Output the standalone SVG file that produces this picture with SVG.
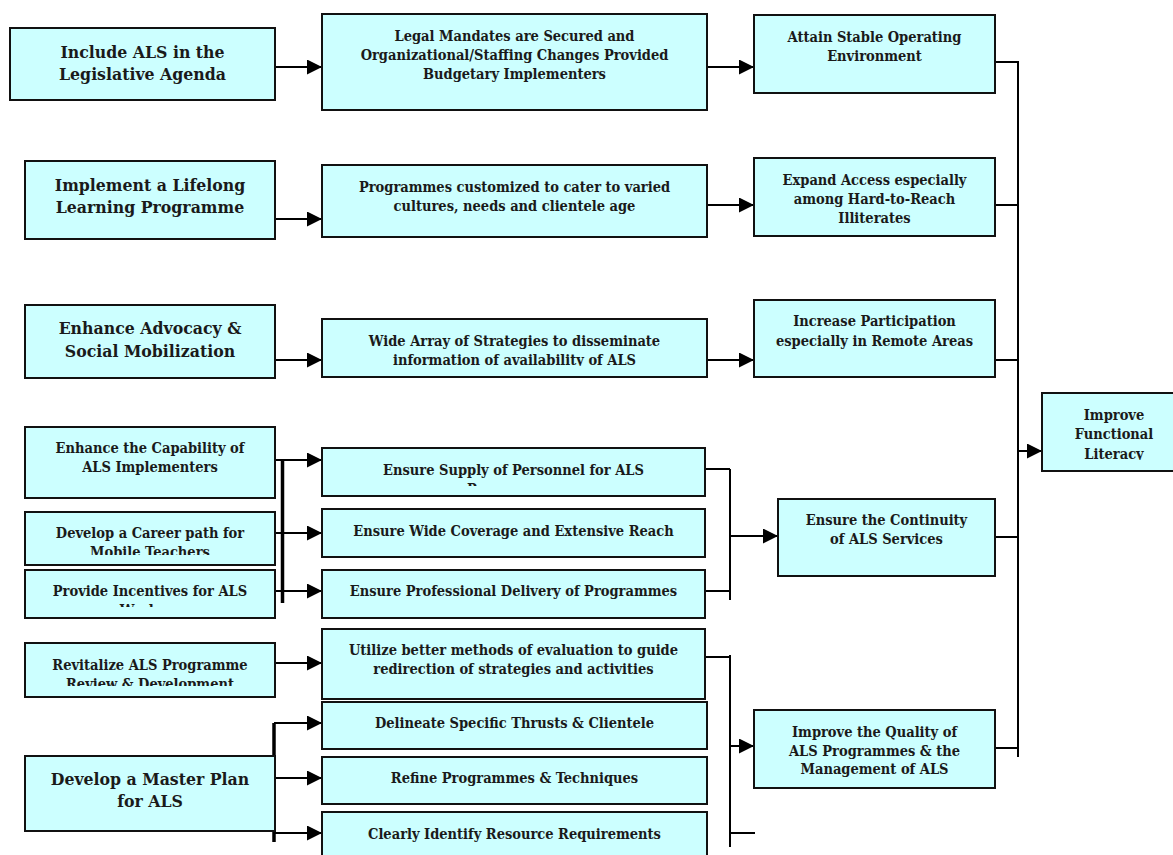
<svg xmlns="http://www.w3.org/2000/svg" width="1173" height="855" viewBox="0 0 1173 855">
<style>
.box{fill:#ccffff;stroke:#111;stroke-width:2}
.t{font-family:"DejaVu Serif Condensed","DejaVu Serif","Liberation Serif",serif;font-stretch:condensed;font-weight:bold;fill:#1a1a1a;text-anchor:middle}
.L{font-size:17.5px}
.S{font-size:14.5px}
.c{stroke:#000;stroke-width:2;fill:none}
.k{stroke:#000;stroke-width:3.5;fill:none}
.a{marker-end:url(#ah)}
</style>
<defs>
<marker id="ah" markerUnits="userSpaceOnUse" markerWidth="16" markerHeight="16" refX="15" refY="7.5" orient="auto"><path d="M0,0 L15,7.5 L0,15 z" fill="#000"/></marker>
<clipPath id="c5"><rect x="25" y="512" width="250" height="43"/></clipPath>
<clipPath id="c6"><rect x="25" y="570" width="250" height="37"/></clipPath>
<clipPath id="c7"><rect x="25" y="643" width="250" height="43"/></clipPath>
<clipPath id="cm3"><rect x="322" y="319" width="385" height="47"/></clipPath>
<clipPath id="cm4"><rect x="322" y="448" width="383" height="38"/></clipPath>
<clipPath id="cr5"><rect x="754" y="710" width="241" height="67"/></clipPath>
<clipPath id="cf"><rect x="1042" y="393" width="144" height="67"/></clipPath>
</defs>
<g id="connectors">
<path class="c a" d="M275,67 H322"/>
<path class="c a" d="M707,67 H754"/>
<path class="c a" d="M275,219 H322"/>
<path class="c a" d="M707,205 H754"/>
<path class="c a" d="M275,360 H322"/>
<path class="c a" d="M707,360 H754"/>
<path class="c" d="M995,62 H1018 M995,205 H1018 M995,360 H1018 M995,537 H1018 M995,748 H1018 M1018,61 V757"/>
<path class="c a" d="M1018,451 H1042"/>
<path class="c a" d="M275,460 H322"/>
<path class="c a" d="M275,533 H322"/>
<path class="c a" d="M275,591 H322"/>
<path class="k" d="M282.5,460 V603"/>
<path class="c" d="M705,469 H730 M705,591 H730 M730,469 V600"/>
<path class="c a" d="M730,536 H778"/>
<path class="c a" d="M275,663 H322"/>
<path class="c" d="M705,657 H730 M730,655 V847 M730,833 H755"/>
<path class="c a" d="M730,746 H754"/>
<path class="k" d="M274,723 V842"/>
<path class="c a" d="M274,723 H322"/>
<path class="c a" d="M274,778 H322"/>
<path class="c a" d="M274,833 H322"/>
</g>
<g id="n1"><rect class="box" x="10" y="28" width="265" height="72"/><text class="t L" x="142.5" y="58">Include ALS in the</text><text class="t L" x="142.5" y="80">Legislative  Agenda</text></g>
<g id="n2"><rect class="box" x="25" y="161" width="250" height="78"/><text class="t L" x="150" y="191">Implement a Lifelong</text><text class="t L" x="150" y="213">Learning Programme</text></g>
<g id="n3"><rect class="box" x="25" y="305" width="250" height="73"/><text class="t L" x="150" y="334">Enhance Advocacy &amp;</text><text class="t L" x="150" y="357">Social Mobilization</text></g>
<g id="n4"><rect class="box" x="25" y="427" width="250" height="71"/><text class="t S" x="150" y="453">Enhance the Capability of</text><text class="t S" x="150" y="472">ALS Implementers</text></g>
<g id="n5"><rect class="box" x="25" y="512" width="250" height="53"/><g clip-path="url(#c5)"><text class="t S" x="150" y="538">Develop a Career path for</text><text class="t S" x="150" y="557">Mobile Teachers</text></g></g>
<g id="n6"><rect class="box" x="25" y="570" width="250" height="48"/><g clip-path="url(#c6)"><text class="t S" x="150" y="596">Provide Incentives for ALS</text><text class="t S" x="150" y="615">Workers</text></g></g>
<g id="n7"><rect class="box" x="25" y="643" width="250" height="54"/><g clip-path="url(#c7)"><text class="t S" x="150" y="670">Revitalize ALS Programme</text><text class="t S" x="150" y="689">Review &amp; Development</text></g></g>
<g id="n8"><rect class="box" x="25" y="756" width="250" height="75"/><text class="t L" x="150" y="785">Develop a Master Plan</text><text class="t L" x="150" y="807">for ALS</text></g>
<g id="m1"><rect class="box" x="322" y="14" width="385" height="96"/><text class="t S" x="514.5" y="41">Legal Mandates are Secured and</text><text class="t S" x="514.5" y="60">Organizational/Staffing Changes Provided</text><text class="t S" x="514.5" y="79">Budgetary Implementers</text></g>
<g id="m2"><rect class="box" x="322" y="165" width="385" height="72"/><text class="t S" x="514.5" y="192">Programmes customized to cater to varied</text><text class="t S" x="514.5" y="211">cultures, needs and clientele age</text></g>
<g id="m3"><rect class="box" x="322" y="319" width="385" height="58"/><g clip-path="url(#cm3)"><text class="t S" x="514.5" y="346">Wide Array of Strategies to disseminate</text><text class="t S" x="514.5" y="365">information of availability of ALS</text></g></g>
<g id="m4"><rect class="box" x="322" y="448" width="383" height="48"/><g clip-path="url(#cm4)"><text class="t S" x="513.5" y="475">Ensure Supply of Personnel for ALS</text><text class="t S" x="513.5" y="494">Programmes</text></g></g>
<g id="m5"><rect class="box" x="322" y="509" width="383" height="48"/><text class="t S" x="513.5" y="536">Ensure Wide Coverage and Extensive Reach</text></g>
<g id="m6"><rect class="box" x="322" y="570" width="383" height="48"/><text class="t S" x="513.5" y="596">Ensure Professional Delivery of Programmes</text></g>
<g id="m7"><rect class="box" x="322" y="629" width="383" height="70"/><text class="t S" x="513.5" y="655">Utilize better methods of evaluation to guide</text><text class="t S" x="513.5" y="674">redirection of strategies and activities</text></g>
<g id="m8"><rect class="box" x="322" y="702" width="385" height="47"/><text class="t S" x="514.5" y="728">Delineate Specific Thrusts &amp; Clientele</text></g>
<g id="m9"><rect class="box" x="322" y="757" width="385" height="47"/><text class="t S" x="514.5" y="783">Refine Programmes &amp; Techniques</text></g>
<g id="m10"><rect class="box" x="322" y="812" width="385" height="60"/><text class="t S" x="514.5" y="839">Clearly Identify Resource Requirements</text></g>
<g id="r1"><rect class="box" x="754" y="15" width="241" height="78"/><text class="t S" x="874.5" y="42">Attain Stable Operating</text><text class="t S" x="874.5" y="61">Environment</text></g>
<g id="r2"><rect class="box" x="754" y="158" width="241" height="78"/><text class="t S" x="874.5" y="185">Expand Access especially</text><text class="t S" x="874.5" y="204">among Hard-to-Reach</text><text class="t S" x="874.5" y="223">Illiterates</text></g>
<g id="r3"><rect class="box" x="754" y="300" width="241" height="77"/><text class="t S" x="874.5" y="326">Increase Participation</text><text class="t S" x="874.5" y="346">especially in Remote Areas</text></g>
<g id="r4"><rect class="box" x="778" y="499" width="217" height="77"/><text class="t S" x="886.5" y="525">Ensure the Continuity</text><text class="t S" x="886.5" y="544">of ALS Services</text></g>
<g id="r5"><rect class="box" x="754" y="710" width="241" height="78"/><g clip-path="url(#cr5)"><text class="t S" x="874.5" y="737">Improve the Quality of</text><text class="t S" x="874.5" y="756">ALS Programmes &amp; the</text><text class="t S" x="874.5" y="774">Management of ALS</text></g></g>
<g id="f"><rect class="box" x="1042" y="393" width="144" height="78"/><g clip-path="url(#cf)"><text class="t S" x="1114" y="420">Improve</text><text class="t S" x="1114" y="439">Functional</text><text class="t S" x="1114" y="459">Literacy</text></g></g>
</svg>
